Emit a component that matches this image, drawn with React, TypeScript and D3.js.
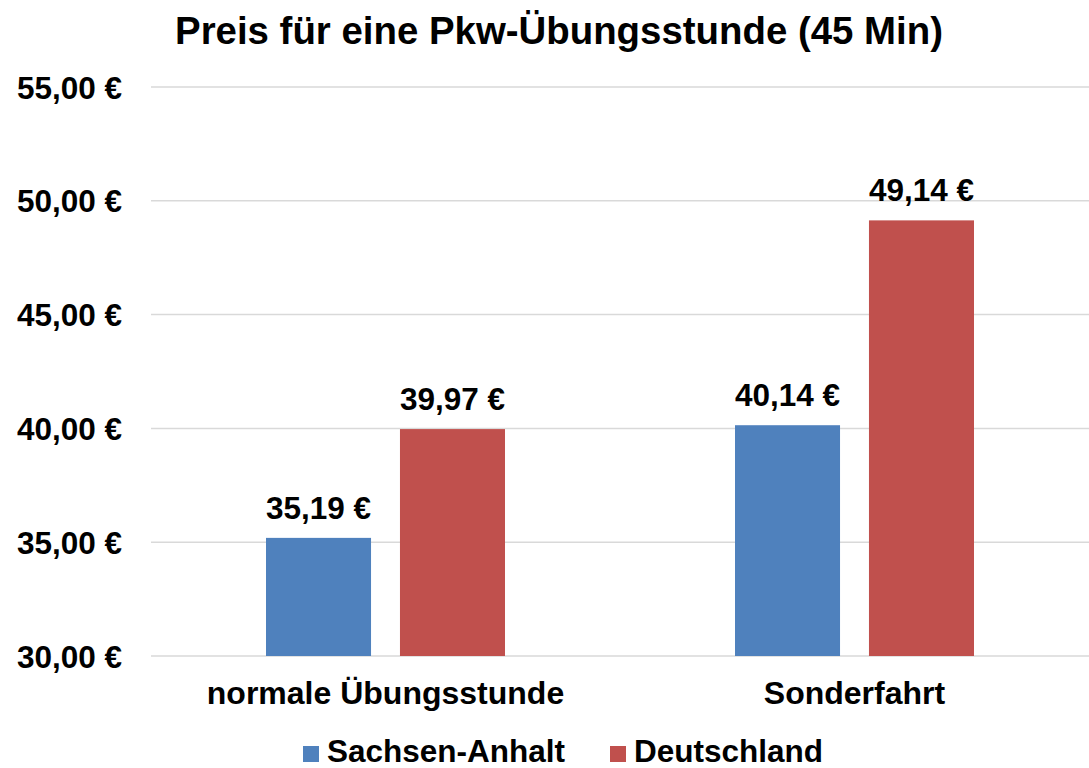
import * as d3 from "d3";

const categories = ["normale Übungsstunde", "Sonderfahrt"];
const seriesNames = ["Sachsen-Anhalt", "Deutschland"];
const sachsenAnhalt = [35.19, 40.14];
const deutschland = [39.97, 49.14];
const yTicks = [30, 35, 40, 45, 50, 55];
const colors = ["#4F81BD", "#C0504D"];

const W = 1089;
const H = 768;
const FONT = "'Liberation Sans', Arial, sans-serif";

const fmt = (v: number) => v.toFixed(2).replace(".", ",") + " €";

export default function App() {
  const margin = { left: 151, right: 0, top: 87, bottom: 112 };
  const groupWidth = 239;
  const x0 = d3
    .scaleBand<string>()
    .domain(categories)
    .range([margin.left, W - margin.right]);
  const x1 = d3
    .scaleBand<string>()
    .domain(seriesNames)
    .range([0, groupWidth])
    .paddingInner(0.216);
  const y = d3
    .scaleLinear()
    .domain([30, 55])
    .range([H - margin.bottom, margin.top]);

  const values = [sachsenAnhalt, deutschland];

  // legend layout
  const legend = [
    { name: seriesNames[0], x: 303 },
    { name: seriesNames[1], x: 610 },
  ];

  return (
    <svg
      width={W}
      height={H}
      style={{ position: "absolute", left: 0, top: 0, background: "#fff" }}
      fontFamily={FONT}
      fontWeight="bold"
    >
      <text x={559} y={44} textAnchor="middle" fontSize={38.4}>
        Preis für eine Pkw-Übungsstunde (45 Min)
      </text>
      {yTicks.map((t) => (
        <g key={t}>
          <line
            x1={margin.left}
            x2={W - margin.right}
            y1={y(t)}
            y2={y(t)}
            stroke="#d9d9d9"
            strokeWidth={1.5}
          />
          <text x={122} y={y(t) + 11.5} textAnchor="end" fontSize={31.5}>
            {fmt(t)}
          </text>
        </g>
      ))}
      {categories.map((c, ci) => {
        const gx = x0(c)! + (x0.bandwidth() - groupWidth) / 2;
        return (
          <g key={c}>
            {seriesNames.map((s, si) => {
              const v = values[si][ci];
              const bx = gx + x1(s)!;
              return (
                <g key={s}>
                  <rect
                    x={bx}
                    y={y(v)}
                    width={x1.bandwidth()}
                    height={y(30) - y(v)}
                    fill={colors[si]}
                  />
                  <text
                    x={bx + x1.bandwidth() / 2}
                    y={y(v) - 19}
                    textAnchor="middle"
                    fontSize={31.5}
                  >
                    {fmt(v)}
                  </text>
                </g>
              );
            })}
            <text
              x={x0(c)! + x0.bandwidth() / 2}
              y={704}
              textAnchor="middle"
              fontSize={32}
            >
              {c}
            </text>
          </g>
        );
      })}
      {legend.map((l, i) => (
        <g key={l.name}>
          <rect x={l.x} y={746} width={16} height={16} fill={colors[i]} />
          <text x={l.x + 24} y={762} fontSize={31.5}>
            {l.name}
          </text>
        </g>
      ))}
    </svg>
  );
}
